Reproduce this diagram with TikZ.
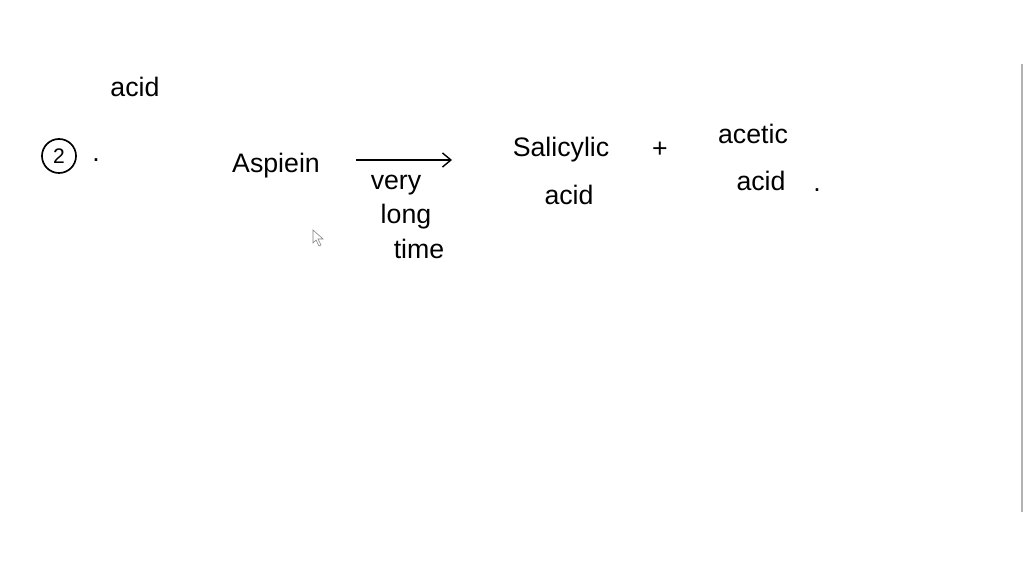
\documentclass[tikz,border=0pt]{standalone}
\usepackage{fontspec}
\setmainfont{Liberation Sans}
\tikzset{
  word/.style={font=\fontsize{19}{22}\selectfont, inner sep=0pt},
  react/.style={line width=1pt, -{Straight Barb[length=6pt,width=10pt]}},
}
\usetikzlibrary{arrows.meta}
\begin{document}
\begin{tikzpicture}[x=0.025cm,y=-0.025cm]
    \useasboundingbox[fill=white] (0,0) rectangle (1024,576);

    % left over from the part before
    \node[word] (acidtop) at (135,87) {acid};

    % part 2
    \node[draw, circle, line width=1.2pt, minimum size=0.85cm, inner sep=0pt,
          font=\fontsize{15}{17}\selectfont] (num) at (59,156) {2};
    \node[word] (numdot) at (96,160) {.};

    \node[word] (aspirin) at (276,166) {Aspiein};
    \coordinate (arrS) at (356,160);
    \coordinate (arrE) at (452,160);
    \draw[react] (arrS) -- (arrE);

    \node[word] (very) at (396,185) {very};
    \node[word] (long) at (406,217) {long};
    \node[word] (time) at (419,249) {time};

    \node[word] (salicylic) at (561,150) {Salicylic};
    \node[word] (salacid) at (569,195) {acid};
    \node[word] (plus) at (660,150) {+};
    \node[word] (acetic) at (753,134) {acetic};
    \node[word] (acacid) at (761,181) {acid};
    \node[word] (enddot) at (817,190) {.};

    % cursor
    \draw[gray, fill=white] (313,230) -- (313,243) -- (316,240) -- (319,246)
        -- (321,245) -- (318,239) -- (323,239) -- cycle;

    % page edge
    \draw[gray!60, line width=1pt] (1022,64) -- (1022,512);
\end{tikzpicture}
\end{document}
